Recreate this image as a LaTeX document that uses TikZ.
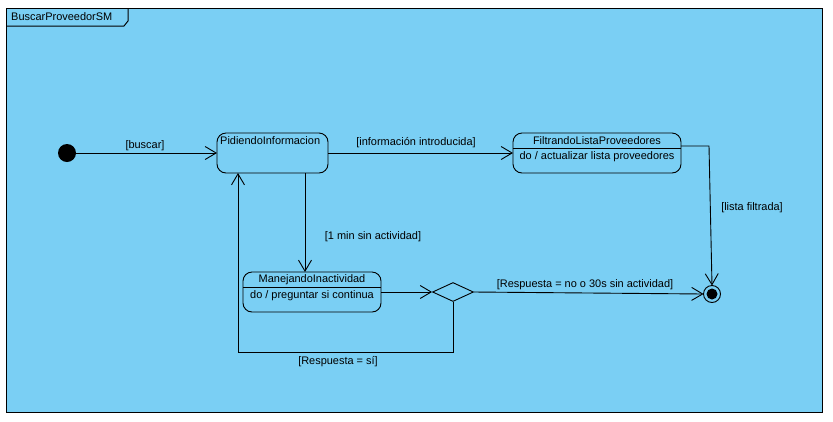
\documentclass[tikz,border=0pt]{standalone}
\usepackage{fontspec}
\setmainfont{Liberation Sans}
\usetikzlibrary{arrows.meta,shapes.geometric}
\definecolor{smblue}{RGB}{122,207,244}
\begin{document}
\begin{tikzpicture}[x=1bp,y=-1bp,
  every node/.style={font=\fontsize{11}{13}\selectfont, inner sep=0pt},
  state/.style={draw, rounded corners=9bp, fill=smblue, line width=0.9bp},
  trans/.style={draw, line width=0.9bp, -{Straight Barb[length=11bp,width=13bp,line width=0.9bp]}}]
\useasboundingbox (0,0) rectangle (833,421);
% frame and tab
\fill[white] (0,0) rectangle (833,421);
\draw[fill=smblue, line width=1bp] (6,8) rectangle (822,412);
\draw[line width=1bp] (6,26) -- (124,26) -- (128,21) -- (128,8);
\node[anchor=west] (title) at (11,17) {BuscarProveedorSM};

% initial and final states
\fill (67,153) circle (9);
\coordinate (init) at (67,153);
\draw[line width=0.9bp] (712,294) circle (8.5);
\fill (712,294) circle (5.5);
\coordinate (finT) at (712,285.5);
\coordinate (finL) at (703.5,294);

% PidiendoInformacion
\draw[state] (217,133) rectangle (328,173);
\node[anchor=west] (pid) at (220,141) {PidiendoInformacion};
\coordinate (pidL) at (217,153);
\coordinate (pidR) at (328,153);
\coordinate (pidB) at (305,173);
\coordinate (pidB2) at (238,173);

% FiltrandoListaProveedores
\draw[state] (513,133) rectangle (681,173);
\draw[line width=0.9bp] (513,148) -- (681,148);
\node (fil) at (597,141) {FiltrandoListaProveedores};
\node (fildo) at (597,157) {do / actualizar lista proveedores};
\coordinate (filL) at (513,153);
\coordinate (filR) at (681,146);

% ManejandoInactividad
\draw[state] (243,272) rectangle (381,312);
\draw[line width=0.9bp] (243,287) -- (381,287);
\node (man) at (312,280) {ManejandoInactividad};
\node (mando) at (312,296) {do / preguntar si continua};
\coordinate (manT) at (305,272);
\coordinate (manR) at (381,292);

% choice
\node[draw, diamond, fill=smblue, minimum width=41bp, minimum height=19bp, line width=0.9bp, aspect=2.15] (ch) at (453,292) {};

% transitions
\draw[trans] (init) -- (pidL);
\node (g1) at (145,146) {[buscar]};
\draw[trans] (pidR) -- (filL);
\node (g2) at (416,143) {[información introducida]};
\draw[trans] (filR) -- (709,146) -- (finT);
\node (g3) at (752,208) {[lista filtrada]};
\draw[trans] (pidB) -- (manT);
\node (g4) at (373,237) {[1 min sin actividad]};
\draw[trans] (manR) -- (ch.west);
\draw[trans] (ch.east) -- (finL);
\node (g5) at (585,285) {[Respuesta = no o 30s sin actividad]};
\draw[trans] (ch.south) -- (453,352) -- (238,352) -- (pidB2);
\node (g6) at (338,362) {[Respuesta = sí]};
\end{tikzpicture}
\end{document}
